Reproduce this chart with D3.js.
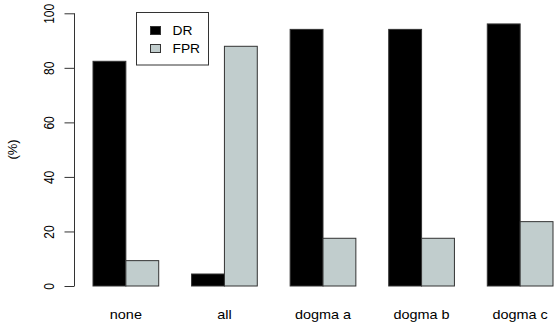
<!DOCTYPE html>
<html>
<head>
<meta charset="utf-8">
<script src="https://cdn.jsdelivr.net/npm/d3@7"></script>
<style>
body { margin: 0; background: #fff; }
text { font-family: "Liberation Sans", Arial, sans-serif; }
</style>
</head>
<body>
<script>
const w = 555;
const h = 326;

const categories = ['none', 'all', 'dogma a', 'dogma b', 'dogma c'];
const seriesNames = ['DR', 'FPR'];
const drValues = [82.4, 4.4, 94.1, 94.1, 96.1];
const fprValues = [9.3, 87.9, 17.5, 17.5, 23.6];
const yTicks = [0, 20, 40, 60, 80, 100];
const colors = ['#000000', '#c1cdcd'];

const svg = d3.select('body')
    .append('svg')
    .attr('width', w)
    .attr('height', h);

// bar positions in R barplot units: each bar 1 wide, 1 unit gap between groups
const xScale = d3.scaleLinear()
    .domain([1, 15])
    .range([93, 553]);

const yScale = d3.scaleLinear()
    .domain([0, 100])
    .range([286, 13.3]);

const bars = [];
categories.forEach((c, i) => {
    const start = 1 + i * 3;
    bars.push({ cat: c, s: 0, x0: start, v: drValues[i] });
    bars.push({ cat: c, s: 1, x0: start + 1, v: fprValues[i] });
});

svg.selectAll('rect.bar')
    .data(bars)
    .enter()
    .append('rect')
    .attr('class', 'bar')
    .attr('x', (d) => xScale(d.x0))
    .attr('y', (d) => yScale(d.v))
    .attr('width', xScale(2) - xScale(1))
    .attr('height', (d) => yScale(0) - yScale(d.v))
    .attr('fill', (d) => colors[d.s])
    .attr('stroke', '#333')
    .attr('stroke-width', 1);

const yAxis = d3.axisLeft(yScale)
    .tickValues(yTicks)
    .tickSize(10)
    .tickPadding(4);

const gy = svg.append('g')
    .attr('transform', 'translate(74.5, 0)')
    .call(yAxis);
gy.select('.domain').attr('stroke', '#333').attr('d', 'M0,' + yScale(0) + 'V' + yScale(100));
gy.selectAll('.tick line').attr('stroke', '#333').attr('x1', -10).attr('x2', 0);
gy.selectAll('.tick text')
    .attr('font-size', 12)
    .attr('font-family', '"Liberation Sans", Arial, sans-serif')
    .attr('fill', '#000')
    .attr('text-anchor', 'middle')
    .attr('x', null)
    .attr('dy', null)
    .attr('transform', 'translate(-20.3,0) scale(1.25,1) rotate(-90)');

svg.append('text')
    .attr('transform', 'translate(16.8, 149.5) rotate(-90)')
    .attr('text-anchor', 'middle')
    .attr('font-size', 13)
    .text('(%)');

svg.selectAll('text.cat')
    .data(categories)
    .enter()
    .append('text')
    .attr('class', 'cat')
    .attr('transform', (d, i) => 'translate(' + xScale(2 + i * 3) + ',318.5) scale(1.07,1)')
    .attr('text-anchor', 'middle')
    .attr('font-size', 13.5)
    .text((d) => d);

// legend
const legend = svg.append('g');
legend.append('rect')
    .attr('x', 136.5)
    .attr('y', 12.5)
    .attr('width', 72)
    .attr('height', 52.5)
    .attr('fill', '#fff')
    .attr('stroke', '#333');
seriesNames.forEach((s, i) => {
    legend.append('rect')
        .attr('x', 150.5)
        .attr('y', 26.5 + i * 18)
        .attr('width', 10)
        .attr('height', 8)
        .attr('fill', colors[i])
        .attr('stroke', '#333');
    legend.append('text')
        .attr('transform', 'translate(172.5,' + (34.8 + i * 18) + ') scale(1.15,1)')
        .attr('font-size', 12)
        .text(s);
});
</script>
</body>
</html>
